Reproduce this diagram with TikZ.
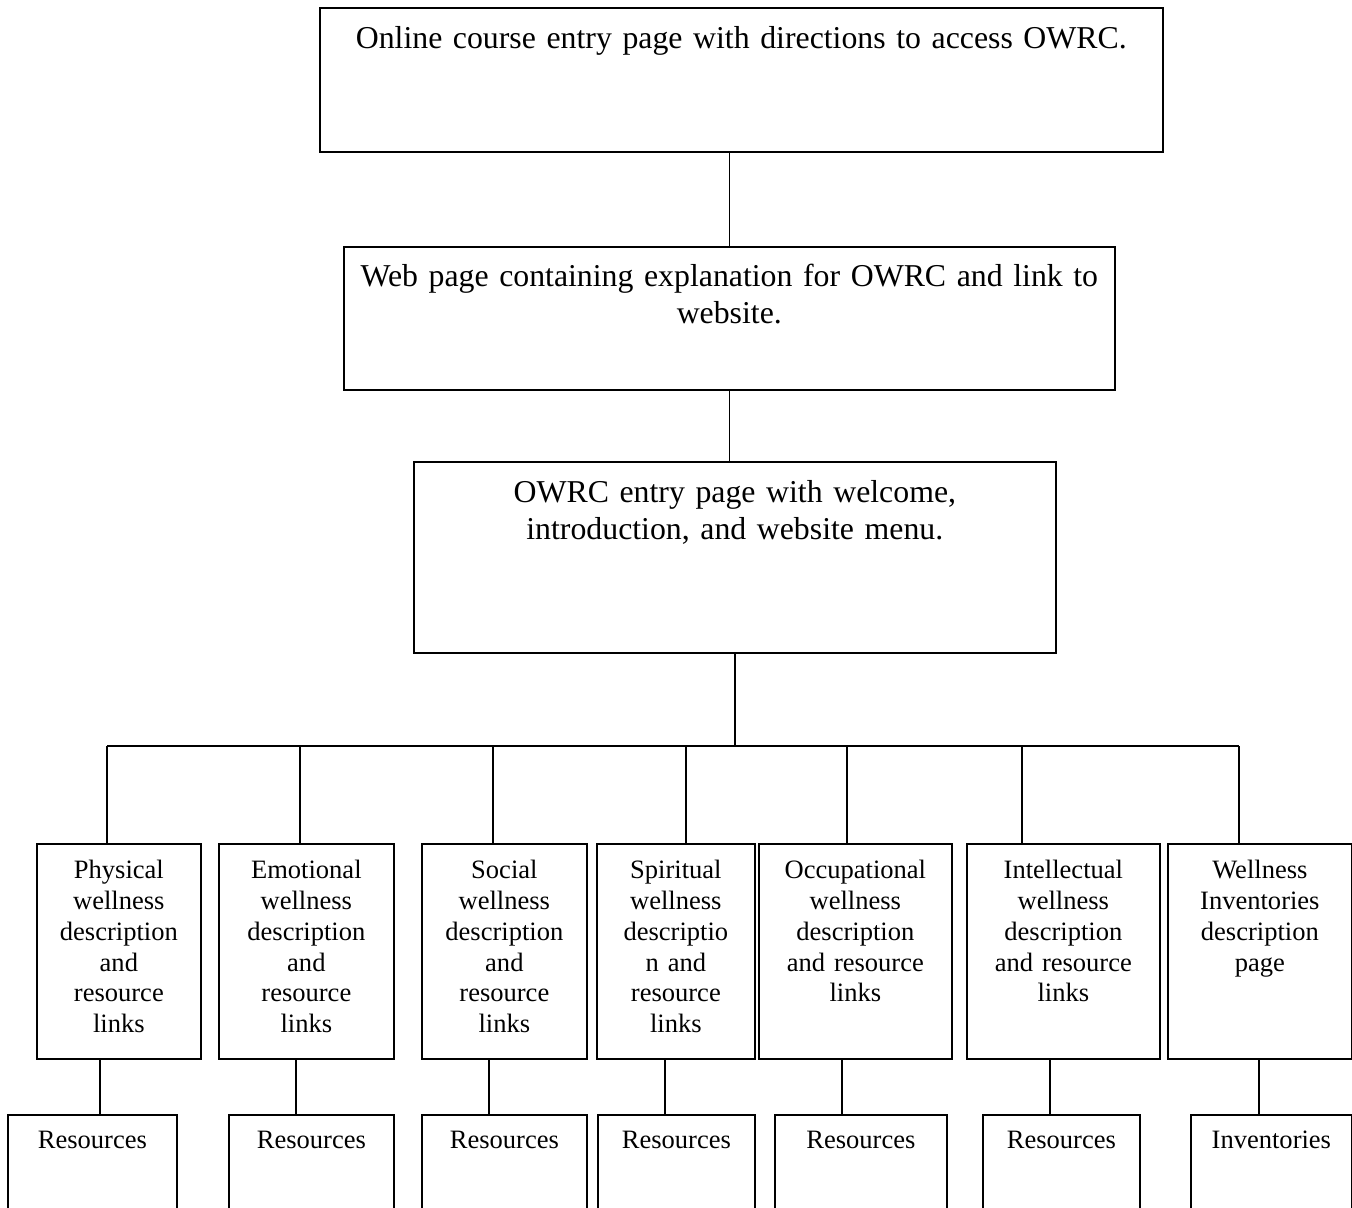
\documentclass[tikz,border=0pt]{standalone}
\usepackage{fontspec}
\setmainfont{Liberation Serif}

\tikzset{
  pagebox/.style={draw, line width=1pt, anchor=north west, inner sep=0pt, align=center},
  bigtext/.style={font=\fontsize{18.1}{20.8}\selectfont},
  smalltext/.style={font=\fontsize{15.1}{17.5}\selectfont},
  topic/.style={pagebox, smalltext, text height=0.7cm, text depth=3.6cm},
  leaf/.style={pagebox, smalltext, text height=0.68cm, text depth=1.9cm},
  link/.style={line width=0.9pt}
}

\begin{document}
\begin{tikzpicture}[x=0.02cm, y=-0.02cm]
	\useasboundingbox (0,0) rectangle (1352,1207);
	% entry pages
	\node[pagebox, bigtext, text width=16.86cm, text height=0.82cm, text depth=2.06cm] (entry) at (319,7) {Online course entry page with directions to access OWRC.};
	\node[pagebox, bigtext, text width=15.42cm, text height=0.8cm, text depth=2.06cm] (web) at (343,246) {Web page containing explanation for OWRC and link to\\ website.};
	\node[pagebox, bigtext, text width=12.84cm, text height=0.82cm, text depth=3.0cm] (owrc) at (413,461) {OWRC entry page with welcome,\\ introduction, and website menu.};
	\draw[link] (web.north) -- (web.north |- entry.south);
	\draw[link] (web.south) -- (web.south |- owrc.north);

	% wellness pages
	\node[topic, text width=3.28cm] (phys) at (36,843) {Physical\\ wellness\\ description\\ and\\ resource\\ links};
	\node[topic, text width=3.5cm] (emo) at (218,843) {Emotional\\ wellness\\ description\\ and\\ resource\\ links};
	\node[topic, text width=3.3cm] (soc) at (421,843) {Social\\ wellness\\ description\\ and\\ resource\\ links};
	\node[topic, text width=3.16cm] (spir) at (596,843) {Spiritual\\ wellness\\ descriptio\\ n and\\ resource\\ links};
	\node[topic, text width=3.86cm] (occ) at (758,843) {Occupational\\ wellness\\ description\\ and resource\\ links};
	\node[topic, text width=3.86cm] (intel) at (966,843) {Intellectual\\ wellness\\ description\\ and resource\\ links};
	\node[topic, text width=3.68cm] (well) at (1167,843) {Wellness\\ Inventories\\ description\\ page};

	% resource pages
	\node[leaf, text width=3.38cm] (res1) at (7,1114) {Resources};
	\node[leaf, text width=3.3cm] (res2) at (228,1114) {Resources};
	\node[leaf, text width=3.3cm] (res3) at (421,1114) {Resources};
	\node[leaf, text width=3.14cm] (res4) at (597,1114) {Resources};
	\node[leaf, text width=3.44cm] (res5) at (774,1114) {Resources};
	\node[leaf, text width=3.14cm] (res6) at (982,1114) {Resources};
	\node[leaf, text width=3.22cm] (inv) at (1190,1114) {Inventories};

	% menu bus
	\coordinate (b1) at (107,746);
	\coordinate (b2) at (300,746);
	\coordinate (b3) at (493,746);
	\coordinate (b4) at (686,746);
	\coordinate (b5) at (847,746);
	\coordinate (b6) at (1022,746);
	\coordinate (b7) at (1239,746);
	\draw[link] (owrc.south) -- (owrc.south |- b1);
	\draw[link] (b1) -- (b7);
	\foreach \b/\t in {b1/phys, b2/emo, b3/soc, b4/spir, b5/occ, b6/intel, b7/well}
		\draw[link] (\b) -- (\b |- \t.north);

	% down to resources
	\coordinate (c1) at (100,1058);
	\coordinate (c2) at (296,1058);
	\coordinate (c3) at (489,1058);
	\coordinate (c4) at (665,1058);
	\coordinate (c5) at (842,1058);
	\coordinate (c6) at (1050,1058);
	\coordinate (c7) at (1259,1058);
	\foreach \c/\r in {c1/res1, c2/res2, c3/res3, c4/res4, c5/res5, c6/res6, c7/inv}
		\draw[link] (\c) -- (\c |- \r.north);
\end{tikzpicture}
\end{document}
